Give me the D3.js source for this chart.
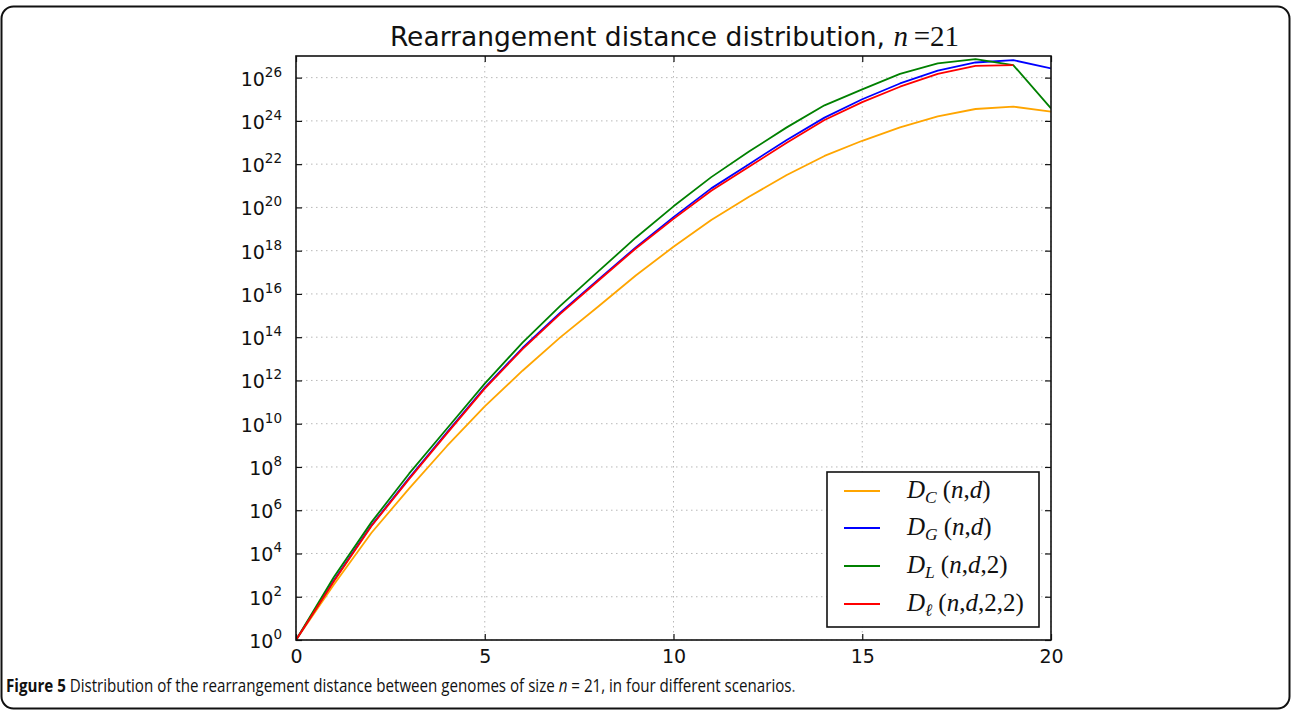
<!DOCTYPE html>
<html><head><meta charset="utf-8">
<script src="https://cdn.jsdelivr.net/npm/d3@7"></script>
<style>body{margin:0;background:#fff} svg{display:block}</style>
</head><body><svg id="c" width="1292" height="710"></svg>
<script>
// ---- data (log10 of counts) ----
const distances = d3.range(0, 21);
const logDC  = [0, 2.55, 4.96, 7.01, 8.97, 10.80, 12.45, 13.99, 15.41, 16.85, 18.18, 19.42, 20.49, 21.50, 22.38, 23.08, 23.70, 24.21, 24.55, 24.66, 24.43];
const logDG  = [0, 2.75, 5.30, 7.50, 9.60, 11.67, 13.50, 15.13, 16.65, 18.15, 19.55, 20.88, 22.00, 23.12, 24.15, 25.00, 25.73, 26.32, 26.70, 26.81, 26.43];
const logDL  = [0, 2.90, 5.45, 7.70, 9.78, 11.85, 13.75, 15.45, 17.03, 18.60, 20.05, 21.40, 22.58, 23.70, 24.72, 25.46, 26.17, 26.66, 26.86, 26.58, 24.58];
const logDl  = [0, 2.70, 5.27, 7.45, 9.55, 11.62, 13.45, 15.08, 16.60, 18.10, 19.47, 20.77, 21.88, 22.99, 24.04, 24.87, 25.58, 26.17, 26.54, 26.58];
const xTicks = [0, 5, 10, 15, 20];
const yTickExps = [0, 2, 4, 6, 8, 10, 12, 14, 16, 18, 20, 22, 24, 26];
const seriesNames = ["DC", "DG", "DL", "Dl"];
const seriesColors = ["#ffa500", "#0000ff", "#008000", "#ff0000"];
const seriesSub = ["C", "G", "L", "\u2113"];
const seriesArgs = [["n", "d"], ["n", "d"], ["n", "d", "2"], ["n", "d", "2", "2"]];
const seriesLog = [logDC, logDG, logDL, logDl];

const svg = d3.select("#c");
const L = 296, R = 1051, T = 56, B = 640;
const x = d3.scaleLinear().domain([0, 20]).range([L, R]);
const y = d3.scaleLog().domain([1, 1e27]).range([B, T]);

// figure border
svg.append("rect").attr("x", 1.5).attr("y", 6.5).attr("width", 1288).attr("height", 702)
  .attr("rx", 12).attr("fill", "none").attr("stroke", "#111").attr("stroke-width", 2);

// grid
const g = svg.append("g");
g.selectAll(".gx").data(xTicks).join("line")
  .attr("x1", d => x(d)).attr("x2", d => x(d)).attr("y1", T).attr("y2", B)
  .attr("stroke", "#b8b8b8").attr("stroke-width", 1).attr("stroke-dasharray", "1.5,3.5");
g.selectAll(".gy").data(yTickExps).join("line")
  .attr("x1", L).attr("x2", R).attr("y1", d => y(Math.pow(10, d))).attr("y2", d => y(Math.pow(10, d)))
  .attr("stroke", "#b8b8b8").attr("stroke-width", 1).attr("stroke-dasharray", "1.5,3.5");

// lines
svg.append("clipPath").attr("id", "clp").append("rect")
  .attr("x", L).attr("y", T).attr("width", R - L).attr("height", B - T);
const line = d3.line().x((d, i) => x(distances[i])).y(d => y(Math.pow(10, d)));
seriesLog.forEach((arr, k) => {
  svg.append("path").datum(arr).attr("d", line).attr("fill", "none")
    .attr("stroke", seriesColors[k]).attr("stroke-width", 1.8)
    .attr("stroke-linejoin", "round").attr("clip-path", "url(#clp)");
});

// axes (ticks inward on all four sides)
const yVals = yTickExps.map(e => Math.pow(10, e));
const fontAx = "'DejaVu Sans', sans-serif";
const xb = svg.append("g").attr("transform", `translate(0,${B})`)
  .call(d3.axisBottom(x).tickValues(xTicks).tickSize(-6).tickPadding(10).tickFormat(d3.format("d")));
const xt = svg.append("g").attr("transform", `translate(0,${T})`)
  .call(d3.axisTop(x).tickValues(xTicks).tickSize(-6).tickFormat(""));
const yl = svg.append("g").attr("transform", `translate(${L},0)`)
  .call(d3.axisLeft(y).tickValues(yVals).tickSize(-6).tickFormat(""));
const yr = svg.append("g").attr("transform", `translate(${R},0)`)
  .call(d3.axisRight(y).tickValues(yVals).tickSize(-6).tickFormat(""));
[xb, xt, yl, yr].forEach(a => {
  a.select(".domain").remove();
  a.selectAll(".tick line").attr("stroke", "#111").attr("stroke-width", 1.2);
});
xb.selectAll(".tick text").attr("font-family", fontAx).attr("font-size", 19).attr("fill", "#111");

// y tick labels 10^k
yTickExps.forEach(e => {
  const t = svg.append("text").attr("x", 282).attr("y", y(Math.pow(10, e)) + 8)
    .attr("text-anchor", "end").attr("font-family", fontAx).attr("font-size", 19).attr("fill", "#111");
  t.append("tspan").text("10");
  t.append("tspan").attr("dy", -9).attr("font-size", 13.5).text(String(e));
});

// frame
svg.append("rect").attr("x", L).attr("y", T).attr("width", R - L).attr("height", B - T)
  .attr("fill", "none").attr("stroke", "#111").attr("stroke-width", 1.6);

// title
const serif = "'Liberation Serif', 'DejaVu Serif', serif";
const title = svg.append("text").attr("x", (L + R) / 2 + 1).attr("y", 46).attr("text-anchor", "middle")
  .attr("font-family", fontAx).attr("font-size", 26.5).attr("fill", "#111");
title.append("tspan").text("Rearrangement distance distribution, ");
title.append("tspan").attr("font-family", serif).attr("font-style", "italic").attr("font-size", 29).text("n");
title.append("tspan").attr("font-family", serif).attr("font-size", 29).text("\u2009=21");

// legend
const lg = svg.append("g");
lg.append("rect").attr("x", 827).attr("y", 472).attr("width", 212).attr("height", 155)
  .attr("fill", "#fff").attr("stroke", "#111").attr("stroke-width", 1.6);
const rowY = [491, 528, 566, 604];
seriesNames.forEach((nm, k) => {
  lg.append("line").attr("x1", 844).attr("x2", 880).attr("y1", rowY[k]).attr("y2", rowY[k])
    .attr("stroke", seriesColors[k]).attr("stroke-width", 1.8);
  const t = lg.append("text").attr("x", 907).attr("y", rowY[k] + 7)
    .attr("font-family", serif).attr("font-size", 25).attr("fill", "#111");
  t.append("tspan").attr("font-style", "italic").text("D");
  t.append("tspan").attr("font-style", "italic").attr("font-size", 17.5).attr("dy", 5).text(seriesSub[k]);
  t.append("tspan").attr("dy", -5).attr("dx", 6).text("(");
  seriesArgs[k].forEach((a, j) => {
    if (j > 0) t.append("tspan").text(",");
    t.append("tspan").attr("font-style", /[a-z]/.test(a) ? "italic" : "normal").text(a);
  });
  t.append("tspan").text(")");
});

// caption
const capG = svg.append("g");
const cap = capG.append("text").attr("x", 0).attr("y", 0)
  .attr("font-family", "'Open Sans', 'Noto Sans', sans-serif").attr("font-size", 18.5).attr("fill", "#111");
cap.append("tspan").attr("font-weight", "bold").text("Figure 5");
cap.append("tspan").text(" Distribution of the rearrangement distance between genomes of size ");
cap.append("tspan").attr("font-style", "italic").text("n");
cap.append("tspan").text(" = 21, in four different scenarios");
cap.append("tspan").attr("fill", "#555").text(".");
const w = cap.node().getComputedTextLength();
capG.attr("transform", `translate(6,692) scale(${790 / w},1)`);
</script></body></html>
